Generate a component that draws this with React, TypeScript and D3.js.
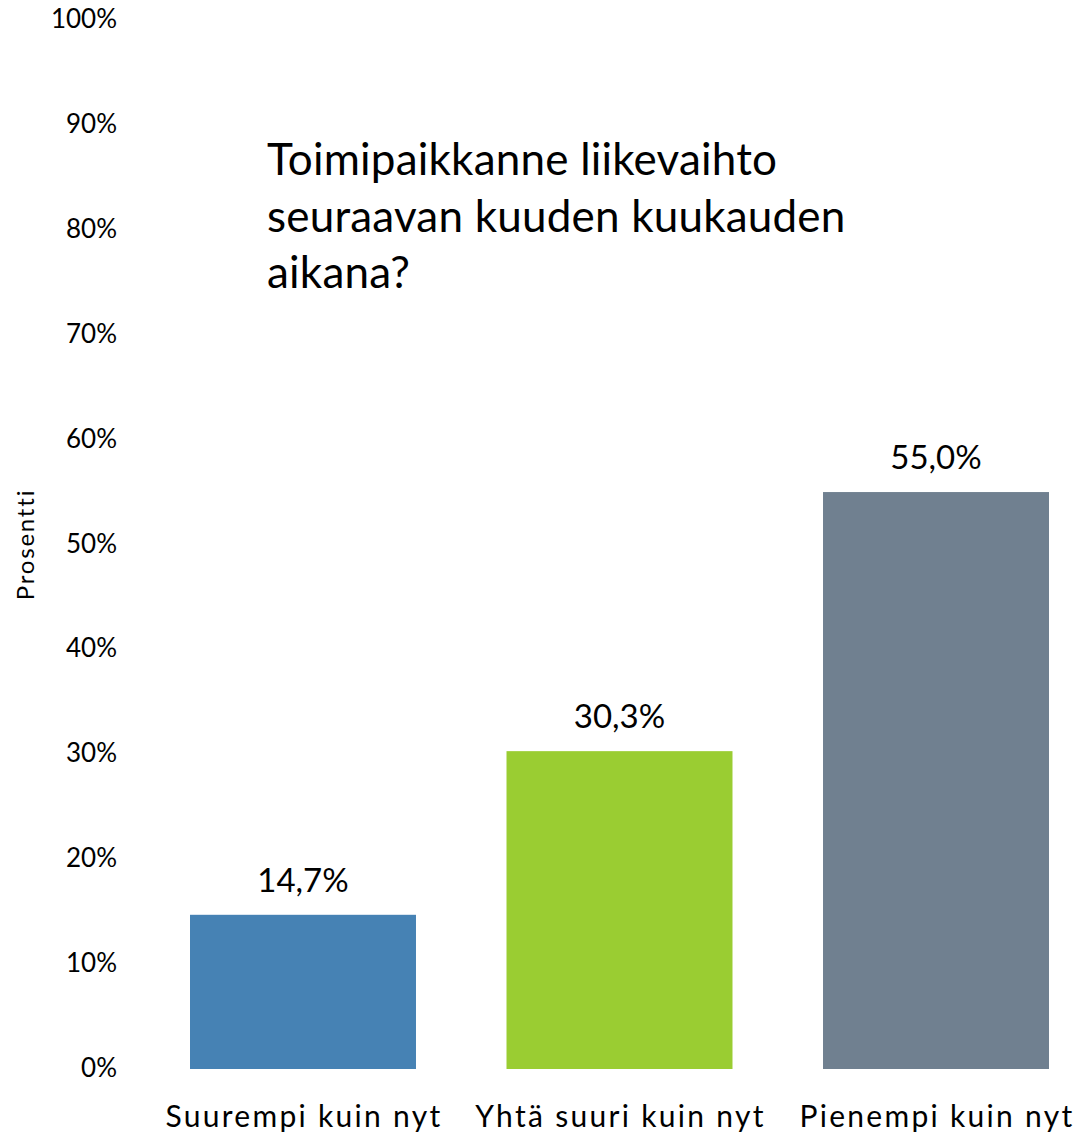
import React, { useEffect, useRef } from 'react';
import * as d3 from 'd3';

// Chart data
const categories = ['Suurempi kuin nyt', 'Yhtä suuri kuin nyt', 'Pienempi kuin nyt'];
const values = [14.7, 30.3, 55.0];
const barColors = ['#4682B4', '#9ACD32', '#708090'];
const yTicks = [0, 10, 20, 30, 40, 50, 60, 70, 80, 90, 100];
const titleLines = ['Toimipaikkanne liikevaihto', 'seuraavan kuuden kuukauden', 'aikana?'];
const yAxisTitle = 'Prosentti';

const FONT = 'Lato, "Open Sans", sans-serif';

const App = () => {
    const svgRef = useRef<SVGSVGElement>(null);

    useEffect(() => {
        if (!svgRef.current) return;
        const width = 1079;
        const height = 1134;
        const svg = d3.select(svgRef.current);
        svg.selectAll('*').remove();

        const x = d3.scaleBand<string>()
            .domain(categories)
            .range([190, 1049])
            .paddingInner(0.286)
            .paddingOuter(0);

        const y = d3.scaleLinear()
            .domain([0, 100])
            .range([1069, 20]);

        // Y tick labels (no axis line, no gridlines)
        svg.append('g')
            .selectAll('text')
            .data(yTicks)
            .enter()
            .append('text')
            .attr('x', 117)
            .attr('y', d => y(d) + 8)
            .attr('text-anchor', 'end')
            .attr('font-family', FONT)
            .attr('font-size', '26px')
            .attr('fill', '#000')
            .text(d => `${d}%`);

        // Y axis title
        svg.append('text')
            .attr('transform', `translate(34, ${y(50)}) rotate(-90)`)
            .attr('text-anchor', 'middle')
            .attr('font-family', FONT)
            .attr('font-size', '24px')
            .attr('letter-spacing', '1.8px')
            .attr('fill', '#000')
            .text(yAxisTitle);

        // Bars
        svg.append('g')
            .selectAll('rect')
            .data(values)
            .enter()
            .append('rect')
            .attr('x', (d, i) => x(categories[i]) as number)
            .attr('y', d => y(d))
            .attr('width', x.bandwidth())
            .attr('height', d => y(0) - y(d))
            .attr('fill', (d, i) => barColors[i]);

        // Value labels
        svg.append('g')
            .selectAll('text')
            .data(values)
            .enter()
            .append('text')
            .attr('x', (d, i) => (x(categories[i]) as number) + x.bandwidth() / 2)
            .attr('y', d => y(d) - 23)
            .attr('text-anchor', 'middle')
            .attr('font-family', FONT)
            .attr('font-size', '33px')
            .attr('fill', '#000')
            .text(d => `${d.toFixed(1).replace('.', ',')}%`);

        // Category labels
        svg.append('g')
            .selectAll('text')
            .data(categories)
            .enter()
            .append('text')
            .attr('x', d => (x(d) as number) + x.bandwidth() / 2 + 1)
            .attr('y', 1127)
            .attr('text-anchor', 'middle')
            .attr('font-family', FONT)
            .attr('font-size', '30px')
            .attr('letter-spacing', '2.3px')
            .attr('fill', '#000')
            .text(d => d);

        // Title
        svg.append('g')
            .selectAll('text')
            .data(titleLines)
            .enter()
            .append('text')
            .attr('x', 267)
            .attr('y', (d, i) => 175 + i * 56.5)
            .attr('font-family', FONT)
            .attr('font-size', '44px')
            .attr('letter-spacing', '0.2px')
            .attr('fill', '#000')
            .text(d => d);

        svg.attr('width', width).attr('height', height);
    }, []);

    return (
        <svg
            ref={svgRef}
            width={1079}
            height={1134}
            style={{ position: 'absolute', left: 0, top: 0, background: '#fff' }}
        />
    );
};

export default App;
